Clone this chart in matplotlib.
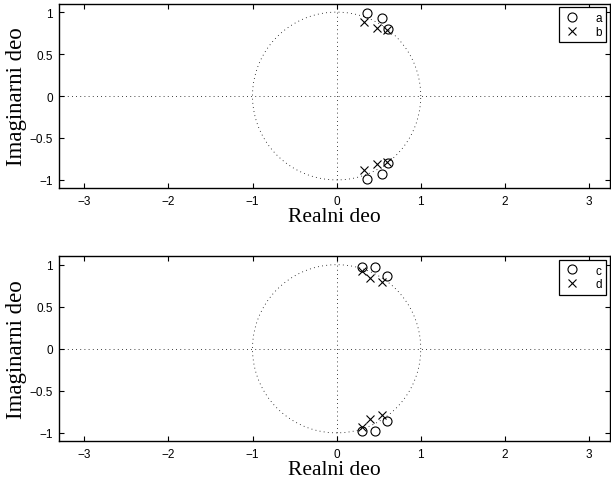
import numpy as np
import matplotlib
matplotlib.use('Agg')
import matplotlib.pyplot as plt

# Zero/pole positions (upper half; lower half is the conjugate)
a_re = [0.365, 0.536, 0.61]
a_im = [0.99, 0.93, 0.80]
b_re = [0.325, 0.476, 0.595]
b_im = [0.884, 0.81, 0.79]

c_re = [0.306, 0.452, 0.595]
c_im = [0.973, 0.975, 0.86]
d_re = [0.298, 0.396, 0.536]
d_im = [0.93, 0.84, 0.79]

xticks = [-3, -2, -1, 0, 1, 2, 3]
yticks = [-1, -0.5, 0, 0.5, 1]
ytick_labels = ['\u22121', '\u22120.5', '0', '0.5', '1']

serif = 'Liberation Serif'
sans = 'Liberation Sans'
dotted = (0, (1, 4))


def conj(re, im):
    return np.r_[re, re], np.r_[im, -np.array(im)]


def zplane(ax, zre, zim, pre, pim, labels):
    t = np.linspace(0, 2 * np.pi, 400)
    ax.plot(np.cos(t), np.sin(t), color='black', lw=0.6, ls=dotted)
    ax.axhline(0, color='black', lw=0.6, ls=dotted)
    ax.axvline(0, color='black', lw=0.6, ls=dotted)
    x, y = conj(zre, zim)
    ax.plot(x, y, 'o', ms=6.5, mfc='none', mec='black', mew=0.8, label=labels[0])
    x, y = conj(pre, pim)
    ax.plot(x, y, 'x', ms=6, mec='black', mew=0.8, label=labels[1])
    ax.set_xlim(-3.3, 3.25)
    ax.set_ylim(-1.1, 1.1)
    ax.set_xticks(xticks)
    ax.set_xticklabels([str(v).replace('-', '\u2212') for v in xticks])
    ax.set_yticks(yticks)
    ax.set_yticklabels(ytick_labels)
    ax.tick_params(direction='in', length=3.6, width=0.8, top=True, right=True,
                   labelsize=8.5, pad=4.5)
    for lab in ax.get_xticklabels() + ax.get_yticklabels():
        lab.set_family(sans)
    for s in ax.spines.values():
        s.set_linewidth(1.0)
    ax.set_xlabel('Realni deo', family=serif, fontsize=15.5, labelpad=0)
    ax.set_ylabel('Imaginarni deo', family=serif, fontsize=16.5, labelpad=2)
    leg = ax.legend(loc='upper right', prop={'family': sans, 'size': 8.5},
                    fancybox=False, framealpha=1, edgecolor='black',
                    borderaxespad=0.3, handlelength=1.4, handletextpad=1.3,
                    borderpad=0.4, labelspacing=0.15)
    leg.get_frame().set_linewidth(0.9)


fig = plt.figure(figsize=(6.11, 4.81), dpi=100)
ax1 = fig.add_axes([0.0966, 0.6064, 0.9018, 0.3838])
ax2 = fig.add_axes([0.0966, 0.0805, 0.9018, 0.3846])

zplane(ax1, a_re, a_im, b_re, b_im, ['a', 'b'])
zplane(ax2, c_re, c_im, d_re, d_im, ['c', 'd'])

fig.savefig('out.png', dpi=100)
